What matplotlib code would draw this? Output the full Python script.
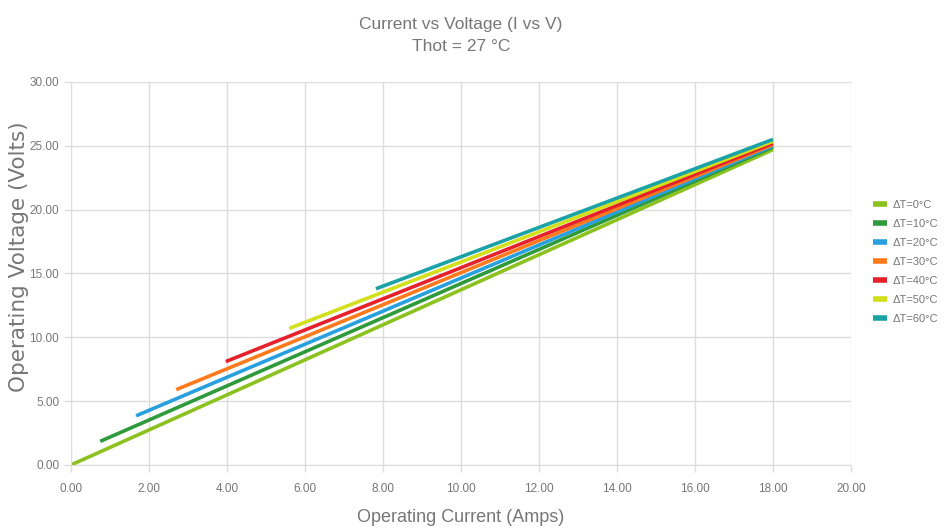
import matplotlib
matplotlib.use("Agg")
import matplotlib.pyplot as plt
from matplotlib.ticker import FormatStrFormatter

plt.rcParams['font.family'] = ['Liberation Sans', 'DejaVu Sans']

# series: start and end point of each line
LABELS = ["ΔT=0°C", "ΔT=10°C", "ΔT=20°C", "ΔT=30°C", "ΔT=40°C", "ΔT=50°C", "ΔT=60°C"]
CURRENT = [
    [0.00, 18.00],
    [0.75, 18.00],
    [1.67, 18.00],
    [2.70, 18.00],
    [3.97, 18.00],
    [5.60, 18.00],
    [7.82, 18.00],
]
VOLTAGE = [
    [0.00, 24.70],
    [1.85, 24.90],
    [3.85, 25.00],
    [5.90, 25.10],
    [8.10, 25.20],
    [10.70, 25.35],
    [13.80, 25.50],
]
COLORS = ["#8cc21f", "#2e9a3c", "#28a0e0", "#ff7a1c", "#e5212b", "#d2e01a", "#1ba2a6"]

TEXT = "#777777"
GRID = "#dddddd"

fig, ax = plt.subplots(figsize=(9.46, 5.32), dpi=100)
fig.subplots_adjust(left=0.075, right=0.8996, top=0.846, bottom=0.126)

for lab, xs, ys, c in zip(LABELS, CURRENT, VOLTAGE, COLORS):
    ax.plot(xs, ys, color=c, linewidth=2.6, label=lab, solid_capstyle='butt')

ax.set_xlim(0, 20)
ax.set_ylim(0, 30)
ax.set_xticks(range(0, 21, 2))
ax.set_yticks(range(0, 31, 5))
ax.xaxis.set_major_formatter(FormatStrFormatter('%.2f'))
ax.yaxis.set_major_formatter(FormatStrFormatter('%.2f'))
ax.tick_params(axis='both', colors=GRID, labelcolor=TEXT, labelsize=8.5, length=5, width=1)
ax.tick_params(axis='x', pad=8)
ax.grid(True, color=GRID, linewidth=1)
ax.set_axisbelow(True)
for side in ['top', 'right']:
    ax.spines[side].set_visible(False)
for side in ['left', 'bottom']:
    ax.spines[side].set_color(GRID)

ax.set_xlabel("Operating Current (Amps)", fontsize=13, color=TEXT, labelpad=10)
ax.set_ylabel("Operating Voltage (Volts)", fontsize=15.5, color=TEXT,
              family=['DejaVu Sans'])
ax.yaxis.set_label_coords(-0.054, 0.543)
ax.set_title("Current vs Voltage (I vs V)\nThot = 27 °C", fontsize=12.5, color=TEXT,
             pad=22, linespacing=1.6)

leg = ax.legend(loc='center left', bbox_to_anchor=(1.015, 0.53), frameon=False,
                fontsize=8, handlelength=1.3, labelspacing=0.8, handletextpad=0.5)
for t in leg.get_texts():
    t.set_color(TEXT)
for h in leg.get_lines():
    h.set_linewidth(4)

fig.savefig("out.png", dpi=100)
